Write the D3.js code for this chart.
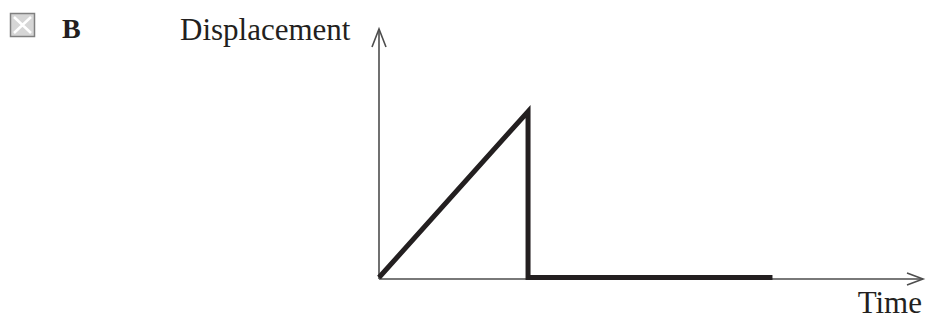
<!DOCTYPE html>
<html>
<head>
<meta charset="utf-8">
<script src="https://cdn.jsdelivr.net/npm/d3@7"></script>
<style>
  html, body { margin: 0; padding: 0; background: #fff; }
  svg { display: block; }
</style>
</head>
<body>
<script>
// ---- data ----
const optionLabel = "B";
const yLabel = "Displacement";
const xLabel = "Time";
const times = [0, 1, 1, 2.64];          // time values of the graph vertices
const displacement = [0, 1, 0, 0];      // displacement at those times
const xAxisMax = 3.65;
const yAxisMax = 1.506;

// ---- drawing ----
const W = 930, H = 326;
const svg = d3.select("body").append("svg").attr("width", W).attr("height", H);

const x = d3.scaleLinear().domain([0, xAxisMax]).range([379, 923]);
const y = d3.scaleLinear().domain([0, yAxisMax]).range([279, 29]);

const ink = "#231f20";
const axisCol = "#4d4d4d";

// checkbox with cross
const cb = svg.append("g");
cb.append("rect").attr("x", 10.5).attr("y", 13.5).attr("width", 24).attr("height", 23)
  .attr("fill", "#d6d6d6").attr("stroke", "#808080").attr("stroke-width", 1.5);
cb.append("path").attr("d", "M14,17 L31,33 M31,17 L14,33")
  .attr("stroke", "#fff").attr("stroke-width", 2.5);

svg.append("text").attr("x", 62).attr("y", 38)
  .attr("font-family", "Liberation Serif").attr("font-weight", "bold")
  .attr("font-size", 28).attr("fill", ink).text(optionLabel);

svg.append("text").attr("x", 180).attr("y", 40)
  .attr("font-family", "Liberation Serif").attr("font-size", 31)
  .attr("fill", ink).text(yLabel);

svg.append("text").attr("x", 922).attr("y", 313).attr("text-anchor", "end")
  .attr("font-family", "Liberation Serif").attr("font-size", 31)
  .attr("fill", ink).text(xLabel);

// axes
const axes = svg.append("g").attr("stroke", axisCol).attr("stroke-width", 1.6).attr("fill", "none");
axes.append("line").attr("x1", x(0)).attr("y1", y(0)).attr("x2", x(0)).attr("y2", y(yAxisMax));
axes.append("line").attr("x1", x(0)).attr("y1", y(0)).attr("x2", x(xAxisMax)).attr("y2", y(0));
// arrowheads
axes.append("path")
  .attr("d", `M${x(0) - 7},${y(yAxisMax) + 18} L${x(0)},${y(yAxisMax)} L${x(0) + 7},${y(yAxisMax) + 18}`);
axes.append("path")
  .attr("d", `M${x(xAxisMax) - 16},${y(0) - 6} L${x(xAxisMax)},${y(0)} L${x(xAxisMax) - 16},${y(0) + 6}`);

// graph
const pts = times.map((t, i) => [t, displacement[i]]);
const line = d3.line().x(d => x(d[0])).y(d => y(d[1]));
svg.append("path").datum(pts).attr("d", line)
  .attr("fill", "none").attr("stroke", ink).attr("stroke-width", 5)
  .attr("stroke-linejoin", "miter").attr("stroke-miterlimit", 3)
  .attr("transform", "translate(0,-1.5)");
</script>
</body>
</html>
